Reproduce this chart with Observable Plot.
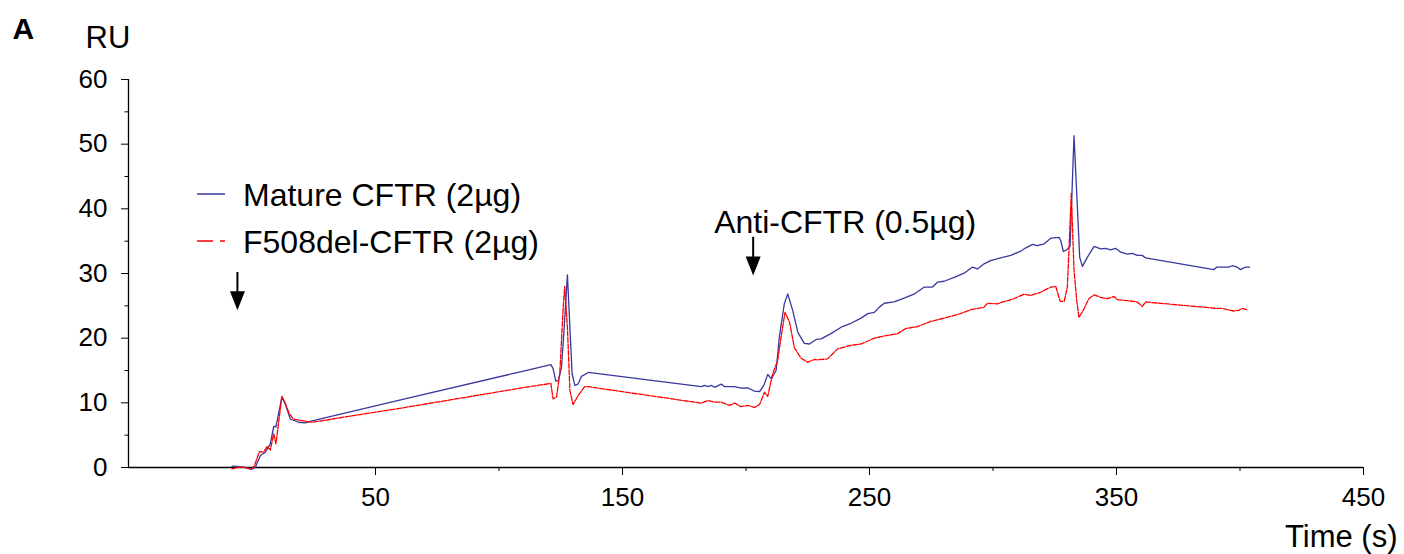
<!DOCTYPE html>
<html>
<head>
<meta charset="utf-8">
<script src="https://cdn.jsdelivr.net/npm/d3@7"></script>
<script src="https://cdn.jsdelivr.net/npm/@observablehq/plot@0.6"></script>
<style>
  html, body { margin: 0; padding: 0; background: #fff; }
  #wrap { position: relative; width: 1404px; height: 554px; font-family: "Liberation Sans", Arial, sans-serif; }
  #legend { position: absolute; left: 0; top: 0; pointer-events: none; }
</style>
</head>
<body>
<div id="wrap"></div>
<script>
// ---- data ----
const seriesNames = ["Mature CFTR (2µg)", "F508del-CFTR (2µg)"];
const seriesColors = ["#38389f", "#ff0000"];

const matureTime = [-8.1,-4.7,-2.7,-0.3,1.3,3.4,5.4,7.4,8.8,9.7,12.1,13.5,15.5,18.9,21.5,24.3,60.6,109.1,121,121.9,123,124,125.3,126.4,127.7,128.7,129.6,130.7,132,133.4,136.1,181.9,183.2,184.6,186,187.3,190,191.3,195.4,198,200.8,203.4,205.5,207.2,208.8,210.2,212.2,213.5,215.5,216.9,218.9,221,223.6,225.7,228.4,230.4,234.4,238.5,242.5,246.6,249.3,252,254,256,260,264,268,272.2,275.5,277.5,280.2,284.3,288.3,291.7,293.7,296.4,299,303.1,307.2,311.2,313.3,316,318,320.7,323.4,326.7,327.4,328.5,329.8,331.2,332.8,334.1,335.1,336.2,338.2,340.9,343.6,345.6,347.6,349.6,351.7,354.4,356.4,358.4,360.4,361.8,389.4,390.7,395.4,396.8,398.8,400.2,402.2,403.9];
const matureRU = [0.2,0.15,0.0,-0.3,0.0,1.86,2.37,3.66,6.34,6.3,10.9,9.8,7.5,7.0,6.9,7.2,10.5,14.84,15.9,15.3,13.35,13.45,15.5,21.7,29.8,21.7,14.5,12.7,12.9,14.1,14.7,12.5,12.7,12.5,12.7,12.4,12.9,12.5,12.5,12.26,12.3,11.8,11.75,12.7,14.4,13.7,15.0,20.15,25.3,26.85,24.3,20.9,19.2,19.1,19.8,19.9,20.7,21.7,22.3,23.1,23.8,24.0,24.8,25.4,25.6,26.2,26.8,27.9,27.9,28.65,28.8,29.4,30.05,31.0,30.7,31.5,32.0,32.4,32.8,33.45,33.97,34.5,34.3,34.6,35.46,35.6,35.1,33.4,33.65,34.2,51.3,40.8,32.5,31.1,32.5,34.2,33.8,33.9,33.65,33.9,33.3,33.0,33.1,32.8,32.8,32.4,30.6,31.0,31.0,31.2,31.0,30.6,31.0,31.0];

const f508Time = [-8.1,-5.4,-2.7,-0.3,1.0,3.0,4.7,6.1,7.4,8.8,9.7,12.1,13.5,15.1,16.8,19.5,24.3,60.6,109.1,121,121.9,123.3,124.6,126,126.6,127.7,128.7,130,132,134.7,136.1,181.9,184.6,187.3,190,193.3,195.4,198,200.8,203.4,205.5,207.5,208.8,210.8,212.8,214.2,215.8,217.6,219.6,222.3,225,227.7,229,233,237.1,242.5,246.6,252,256,261.4,264.7,269.5,274.8,280.2,285.6,291,296.4,297.8,301.8,304,308.5,312.6,315.3,319.3,323.4,325.4,327.2,328.8,330.1,330.8,331.7,332.8,333.9,334.8,336.8,338.8,340.9,343.6,346.3,349,350.3,354.4,358.4,360.4,361.8,390.7,392.7,397.4,399.5,400.9,402.9];
const f508RU = [-0.2,0.05,0.0,-0.3,0.3,2.47,2.37,3.25,2.7,5.2,3.66,11.0,9.9,8.3,7.5,7.3,7.0,9.2,12.3,13.0,10.6,10.9,14.5,24.8,28.0,21.7,11.9,9.74,11.1,12.5,12.5,9.95,10.36,10.1,10.1,9.6,9.95,9.4,9.6,9.3,9.74,11.65,11.0,14.5,16.5,20.15,24.0,22.5,18.5,16.9,16.3,16.7,16.65,16.8,18.35,18.9,19.1,20.0,20.35,20.7,21.5,21.8,22.6,23.1,23.65,24.4,24.8,25.4,25.3,25.6,26.1,26.8,26.6,27.1,27.9,28.0,25.7,25.7,27.9,34.1,42.4,30.5,25.8,23.2,24.5,26.1,26.7,26.3,26.1,26.45,25.95,25.8,25.6,24.9,25.6,24.6,24.6,24.2,24.3,24.6,24.4];

const xMajorTicks = [50, 150, 250, 350, 450];
const xMinorTicks = [100, 200, 300, 400];
const yMajorTicks = [0, 10, 20, 30, 40, 50, 60];
const yMinorTicks = [5, 15, 25, 35, 45, 55];

const injections = [
  {label: "", time: -5.9, top: 30.15, tip: 24.3},
  {label: "Anti-CFTR (0.5µg)", time: 202.9, top: 35.6, tip: 29.7, labelTime: 187.1, labelRU: 36.3}
];

// ---- build ----
const mature = matureTime.map((t, i) => ({t, ru: matureRU[i]}));
const f508 = f508Time.map((t, i) => ({t, ru: f508RU[i]}));

const FONT = "Liberation Sans, Arial, Helvetica, sans-serif";

// downward filled triangle, tip at the anchor point
const downTriangle = {
  draw(context) {
    context.moveTo(0, 0);
    context.lineTo(-7.5, -19);
    context.lineTo(7.5, -19);
    context.closePath();
  }
};

const chart = Plot.plot({
  width: 1404,
  height: 554,
  marginLeft: 128,
  marginRight: 41,
  marginTop: 79,
  marginBottom: 87,
  style: {fontFamily: FONT, fontSize: "26px", background: "white", color: "black"},
  x: {domain: [-50, 450], label: null},
  y: {domain: [0, 60], label: null},
  marks: [
    // axes
    Plot.axisX({ticks: xMajorTicks, tickSize: 8, tickPadding: 12, tickFormat: d => String(d), fontSize: 26, label: null}),
    Plot.axisX({ticks: xMinorTicks, tickSize: 4, text: null, label: null}),
    Plot.axisY({ticks: yMajorTicks, tickSize: 7, tickPadding: 14, tickFormat: d => String(d), fontSize: 26, label: null}),
    Plot.axisY({ticks: yMinorTicks, tickSize: 3.5, text: null, label: null}),
    Plot.ruleY([0], {stroke: "black", strokeWidth: 1.3}),
    Plot.ruleX([-50], {stroke: "black", strokeWidth: 1.3}),
    // series
    Plot.line(mature, {x: "t", y: "ru", stroke: seriesColors[0], strokeWidth: 1.3}),
    Plot.line(f508, {x: "t", y: "ru", stroke: seriesColors[1], strokeWidth: 1.3, strokeDasharray: "5,1.5"}),
    // injection arrows
    Plot.ruleX(injections, {x: "time", y1: "top", y2: d => d.tip + 2.5, stroke: "black", strokeWidth: 2}),
    Plot.dot(injections, {x: "time", y: "tip", symbol: downTriangle, fill: "black", stroke: null}),
    Plot.text(injections.filter(d => d.label), {x: "labelTime", y: "labelRU", text: "label", textAnchor: "start", lineAnchor: "bottom", fontSize: 32, fill: "black"}),
    // panel letter and axis titles
    Plot.text(["A"], {frameAnchor: "top-left", dx: -116, dy: -41, text: d => d, textAnchor: "start", lineAnchor: "bottom", fontSize: 30, fontWeight: "bold", fill: "black"}),
    Plot.text(["RU"], {frameAnchor: "top-left", dx: -43, dy: -32, text: d => d, textAnchor: "start", lineAnchor: "bottom", fontSize: 31, fill: "black"}),
    Plot.text(["Time (s)"], {frameAnchor: "bottom-right", dx: 34, dy: 79, text: d => d, textAnchor: "end", lineAnchor: "bottom", fontSize: 31, fill: "black"})
  ]
});

const wrap = document.getElementById("wrap");
wrap.appendChild(chart);

// legend overlay (real text)
const ns = "http://www.w3.org/2000/svg";
const leg = document.createElementNS(ns, "svg");
leg.setAttribute("id", "legend");
leg.setAttribute("width", 1404);
leg.setAttribute("height", 554);
leg.style.fontFamily = FONT;
const legendRows = [
  {name: seriesNames[0], color: seriesColors[0], dash: null, lineY: 194, textY: 206},
  {name: seriesNames[1], color: seriesColors[1], dash: "16,7,5,7", lineY: 241, textY: 253}
];
for (const r of legendRows) {
  const ln = document.createElementNS(ns, "line");
  ln.setAttribute("x1", 197); ln.setAttribute("x2", 225);
  ln.setAttribute("y1", r.lineY); ln.setAttribute("y2", r.lineY);
  ln.setAttribute("stroke", r.color); ln.setAttribute("stroke-width", 1.5);
  if (r.dash) ln.setAttribute("stroke-dasharray", r.dash);
  leg.appendChild(ln);
  const tx = document.createElementNS(ns, "text");
  tx.setAttribute("x", 243); tx.setAttribute("y", r.textY);
  tx.setAttribute("font-size", 32);
  tx.setAttribute("fill", "black");
  tx.textContent = r.name;
  leg.appendChild(tx);
}
wrap.appendChild(leg);
</script>
</body>
</html>
